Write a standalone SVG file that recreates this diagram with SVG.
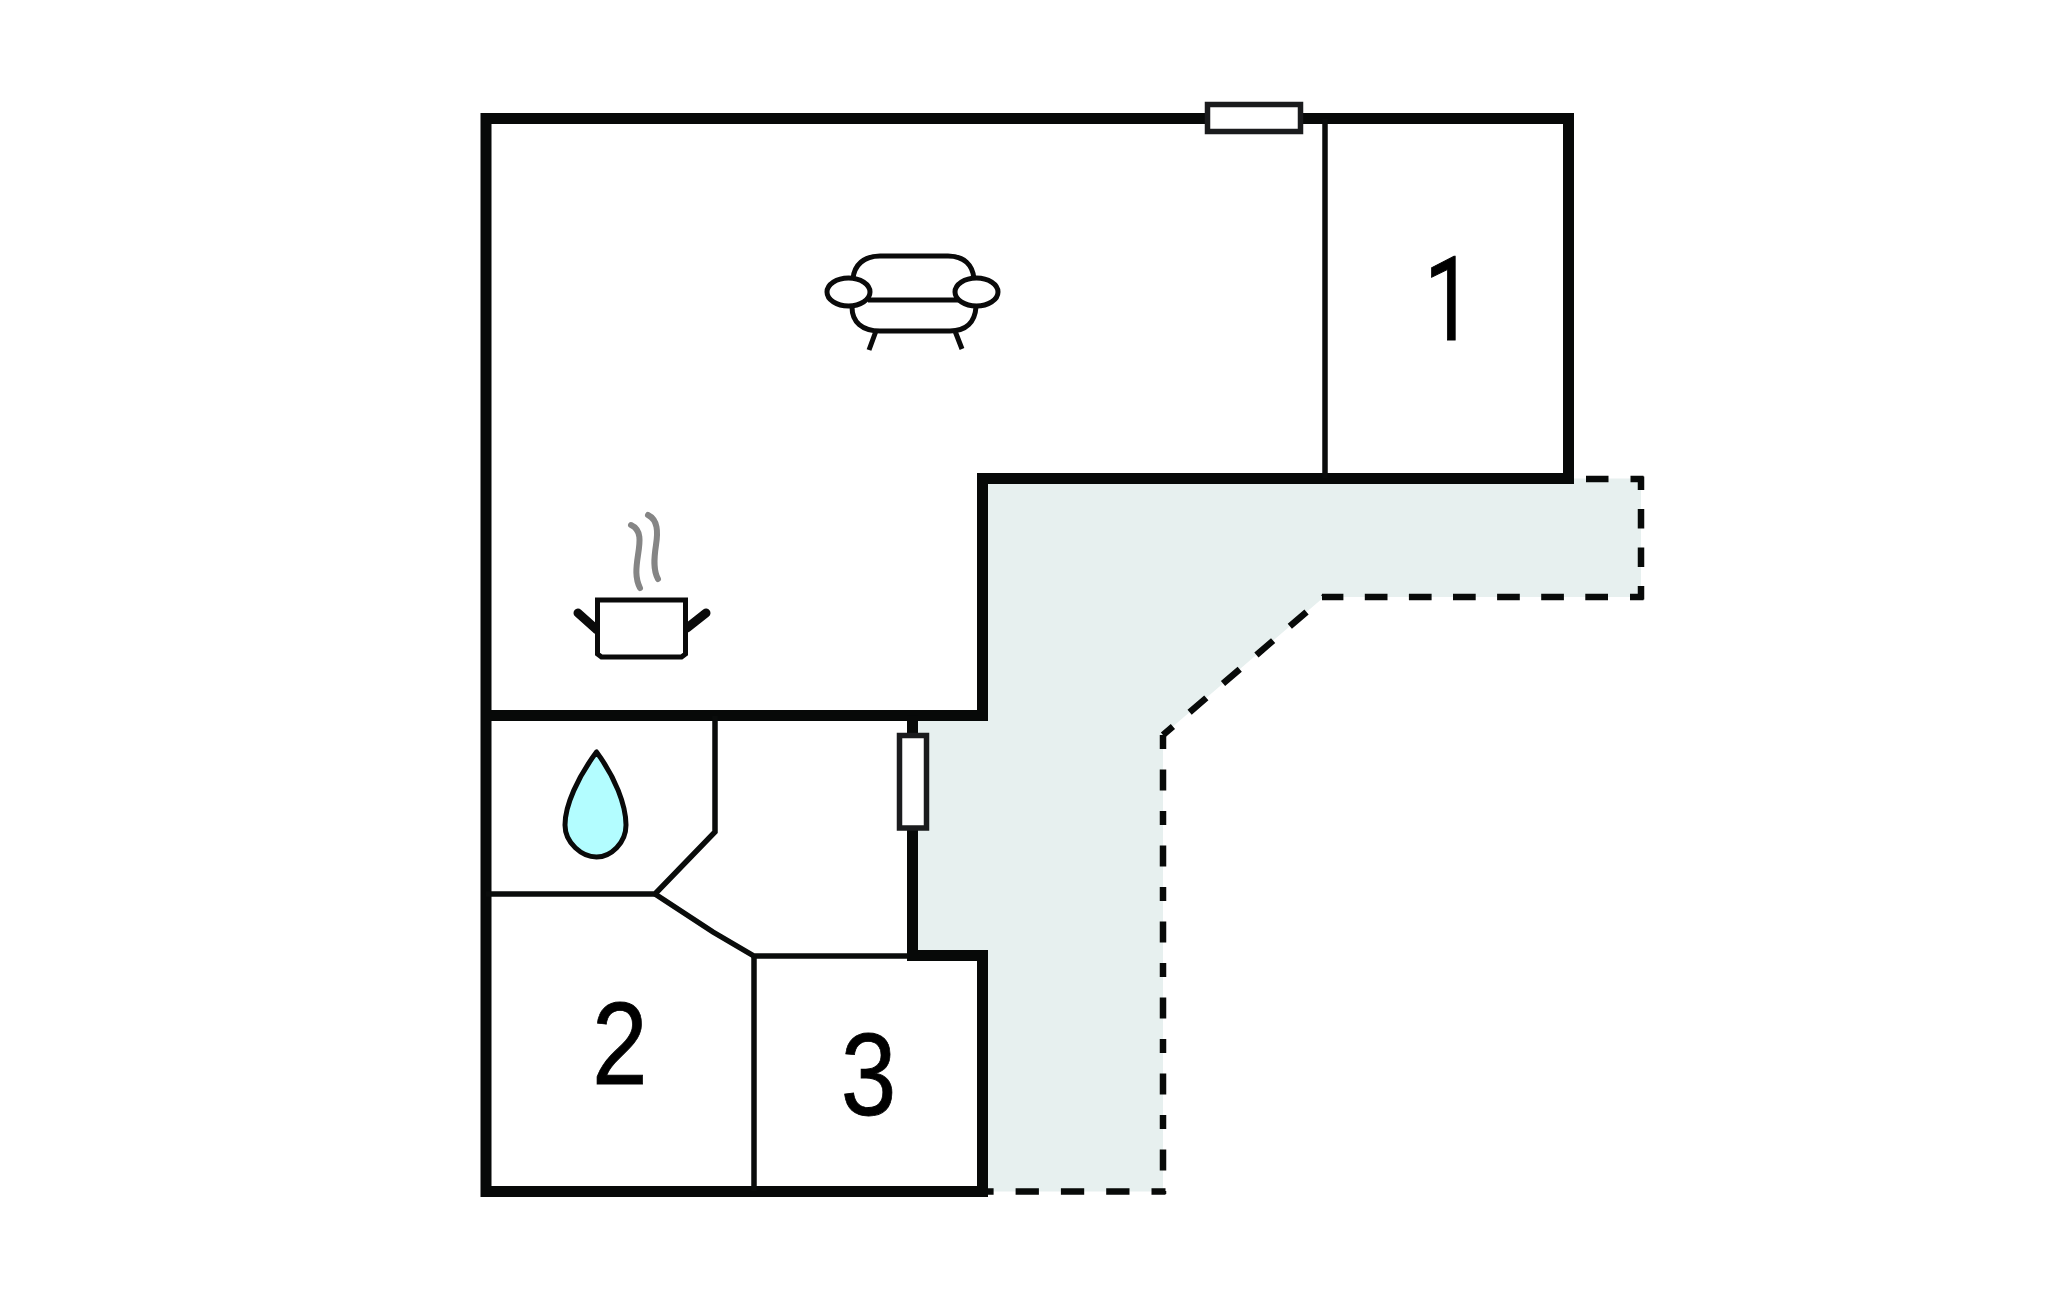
<svg xmlns="http://www.w3.org/2000/svg" width="2047" height="1304" viewBox="0 0 2047 1304">
<style>
.wall{fill:none;stroke:#070908;stroke-width:11;stroke-linejoin:miter}
.thin{fill:none;stroke:#0a0c0b;stroke-width:5.500}
.dash{fill:none;stroke:#080a09;stroke-width:6.500}
.door{fill:#fff;stroke:#1a1b1d;stroke-width:5.500}
.icon{fill:#fff;stroke:#0a0a0a;stroke-width:5}
.line{fill:none;stroke:#0a0a0a;stroke-width:5}
.steam{fill:none;stroke:#858585;stroke-width:6;stroke-linecap:round}
.num{font-family:"Liberation Sans",Arial,sans-serif;font-size:117px;fill:#000;stroke:#000;stroke-width:.8}
.one{font-family:Roboto,"Liberation Sans",Arial,sans-serif;font-size:116px;fill:#000;stroke:#000;stroke-width:1}
</style>
<rect width="2047" height="1304" fill="#fff"/>
<path id="terrace" fill="#e7f0ef" d="M982.500 478.500H1641V597H1324L1163 735V1191.500H982.500V955.500H912.500V715.500H982.500Z"/>
<g id="connectors">
<path class="dash" d="M1574 479H1643.500" stroke-dasharray="0 12 22.500 22 22.500"/>
<path class="dash" d="M1641 476.500V599.500" stroke-dasharray="13.500 19 19.500 19 19.500 19 14"/>
<path class="dash" d="M1643.500 597H1322" stroke-dasharray="13.500 22 22.700 21.400 22.700 21.400 22.700 21.400 22.700 21.400 22.700 21.400 22.700 21.400 22.700 21.400 30"/>
<path class="dash" d="M1324 597L1163 735" stroke-dasharray="22 22" stroke-dashoffset="21"/>
<path class="dash" d="M1163 735V1194" stroke-dasharray="14 20.500 21 20.500"/>
<path class="dash" d="M1165.500 1191.500H988" stroke-dasharray="14 22 23.300 22 23.300 22 23.300 22 23.300"/>
<path class="wall" d="M982.500 955.500V1191.500H486V118.500H1568.500V478.500H982.500V715.500H486"/>
<path class="wall" d="M912.500 715.500V955.500H988"/>
<path class="thin" d="M1325 119V478"/>
<path class="thin" d="M715 716V832L655 894H486"/>
<path class="thin" d="M655 894L713 932L754 956H908"/>
<path class="thin" d="M754 955V1191"/>
</g>
<g id="window-top"><rect class="door" x="1207.500" y="104.500" width="93" height="27"/></g>
<g id="door-right"><rect class="door" x="899.500" y="735.500" width="27" height="92.500"/></g>
<g id="sofa">
<path class="line" d="M853 279C854 265 864 256 880 256H948C964 256 973 265 974 279"/>
<path class="line" d="M868 300H959"/>
<path class="line" d="M852 307C852 322 862 331 880 331H950C966 331 975 322 976 307"/>
<path class="line" d="M876 331L869 350M955 331L962 349"/>
<ellipse class="icon" cx="848.500" cy="292" rx="21.500" ry="14"/>
<ellipse class="icon" cx="976.500" cy="292" rx="21.500" ry="14"/>
</g>
<g id="cooker">
<path class="steam" d="M631 525C642 530 640 542 638 555C636 568 635 578 640 588"/>
<path class="steam" d="M648 515C658 520 658 532 656 545C654 558 653 570 658 579"/>
<path d="M578 613L597 630" fill="none" stroke="#0a0a0a" stroke-width="9" stroke-linecap="round"/>
<path d="M706 613L687 628" fill="none" stroke="#0a0a0a" stroke-width="9" stroke-linecap="round"/>
<path class="icon" d="M597.500 600H685.500V654L681.500 657H601.500L597.500 654Z"/>
</g>
<g id="drop">
<path d="M596.500 752C578 777 565 805 565 825C565 843 582 857 596.500 857C611 857 626 843 626 825C626 805 615 777 596.500 752Z" fill="#b3fdff" stroke="#0a0a0a" stroke-width="5" stroke-linejoin="round"/>
</g>
<g id="room-1"><text class="one" transform="translate(1424.300 340) scale(.75 1)">1</text></g>
<g id="room-2"><text class="num" transform="translate(592 1084) scale(.855 1)">2</text></g>
<g id="room-3"><text class="num" transform="translate(840.800 1114.500) scale(.855 1)">3</text></g>
</svg>
